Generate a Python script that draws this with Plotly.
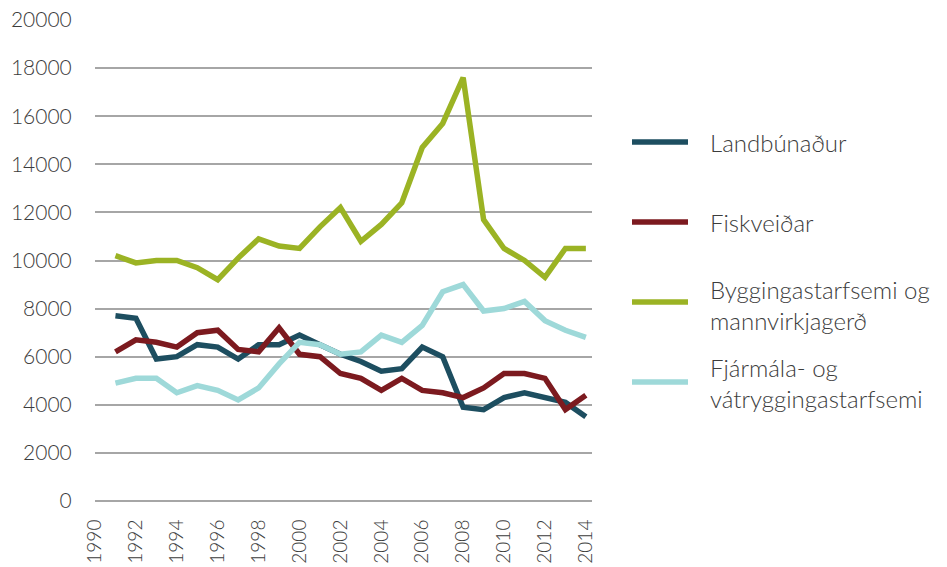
import plotly.graph_objects as go

years = list(range(1991, 2015))

landbunadur = [7700, 7600, 5900, 6000, 6500, 6400, 5900, 6500, 6500, 6900, 6500, 6100,
               5800, 5400, 5500, 6400, 6000, 3900, 3800, 4300, 4500, 4300, 4100, 3500]
fiskveidar = [6200, 6700, 6600, 6400, 7000, 7100, 6300, 6200, 7200, 6100, 6000, 5300,
              5100, 4600, 5100, 4600, 4500, 4300, 4700, 5300, 5300, 5100, 3800, 4400]
byggingar = [10200, 9900, 10000, 10000, 9700, 9200, 10100, 10900, 10600, 10500, 11400, 12200,
             10800, 11500, 12400, 14700, 15700, 17600, 11700, 10500, 10000, 9300, 10500, 10500]
fjarmala = [4900, 5100, 5100, 4500, 4800, 4600, 4200, 4700, 5700, 6600, 6500, 6100,
            6200, 6900, 6600, 7300, 8700, 9000, 7900, 8000, 8300, 7500, 7100, 6800]

series_names = ["Landbúnaður", "Fiskveiðar",
                "Byggingastarfsemi og<br>mannvirkjagerð",
                "Fjármála- og<br>vátryggingastarfsemi"]
series_values = [landbunadur, fiskveidar, byggingar, fjarmala]
colors = ["#1d4e60", "#7c1a1f", "#9bb324", "#9ed9d9"]

x_ticks = list(range(1990, 2015, 2))
y_ticks = list(range(0, 20001, 2000))

W, H = 947, 567
L, R, T, B = 95, 355, 20, 66
pw, ph = W - L - R, H - T - B


def px_x(px):
    return (px - L) / pw


def px_y(py):
    return (H - B - py) / ph


FONT = "Lato"
TXT = "#3c3c3c"

fig = go.Figure()
for name, vals, col in zip(series_names, series_values, colors):
    fig.add_trace(go.Scatter(x=years, y=vals, mode="lines", name=name.replace("<br>", " "),
                             line=dict(color=col, width=5.5), showlegend=False))

# manual legend
leg_y = [142, 222, 302, 382]
text_y = [142, 222, 305, 383]
shapes = []
annotations = []
for i, (name, col) in enumerate(zip(series_names, colors)):
    shapes.append(dict(type="line", xref="paper", yref="paper",
                       x0=px_x(632), x1=px_x(688), y0=px_y(leg_y[i]), y1=px_y(leg_y[i]),
                       line=dict(color=col, width=5.5)))
    annotations.append(dict(text=name, xref="paper", yref="paper",
                            x=px_x(708), y=px_y(text_y[i]), xanchor="left", yanchor="middle",
                            align="left", showarrow=False,
                            font=dict(family=FONT, size=24, color=TXT, weight=300)))

fig.update_layout(
    width=W, height=H,
    margin=dict(l=L, r=R, t=T, b=B, pad=0),
    paper_bgcolor="white", plot_bgcolor="white",
    font=dict(family=FONT, color=TXT, weight=300),
    shapes=shapes, annotations=annotations,
    xaxis=dict(range=[1990, 2014.3], tickvals=x_ticks, ticktext=[str(v) for v in x_ticks],
               tickangle=-90, showgrid=False, zeroline=False, showline=False,
               ticks="outside", ticklen=10, tickcolor="rgba(0,0,0,0)", automargin=False,
               tickfont=dict(family=FONT, size=19, color=TXT, weight=300)),
    yaxis=dict(range=[0, 20000], tickvals=y_ticks, ticktext=[str(v) for v in y_ticks],
               showgrid=True, gridcolor="#a6a6a6", gridwidth=1.5,
               zeroline=True, zerolinecolor="#a6a6a6", zerolinewidth=1.5,
               showline=False, ticks="outside", ticklen=18, tickcolor="rgba(0,0,0,0)",
               automargin=False,
               tickfont=dict(family=FONT, size=21, color=TXT, weight=300)),
)

fig.write_html("out.html", config={"displayModeBar": False},
               post_script="document.body.style.margin='0';document.body.style.padding='0';")
